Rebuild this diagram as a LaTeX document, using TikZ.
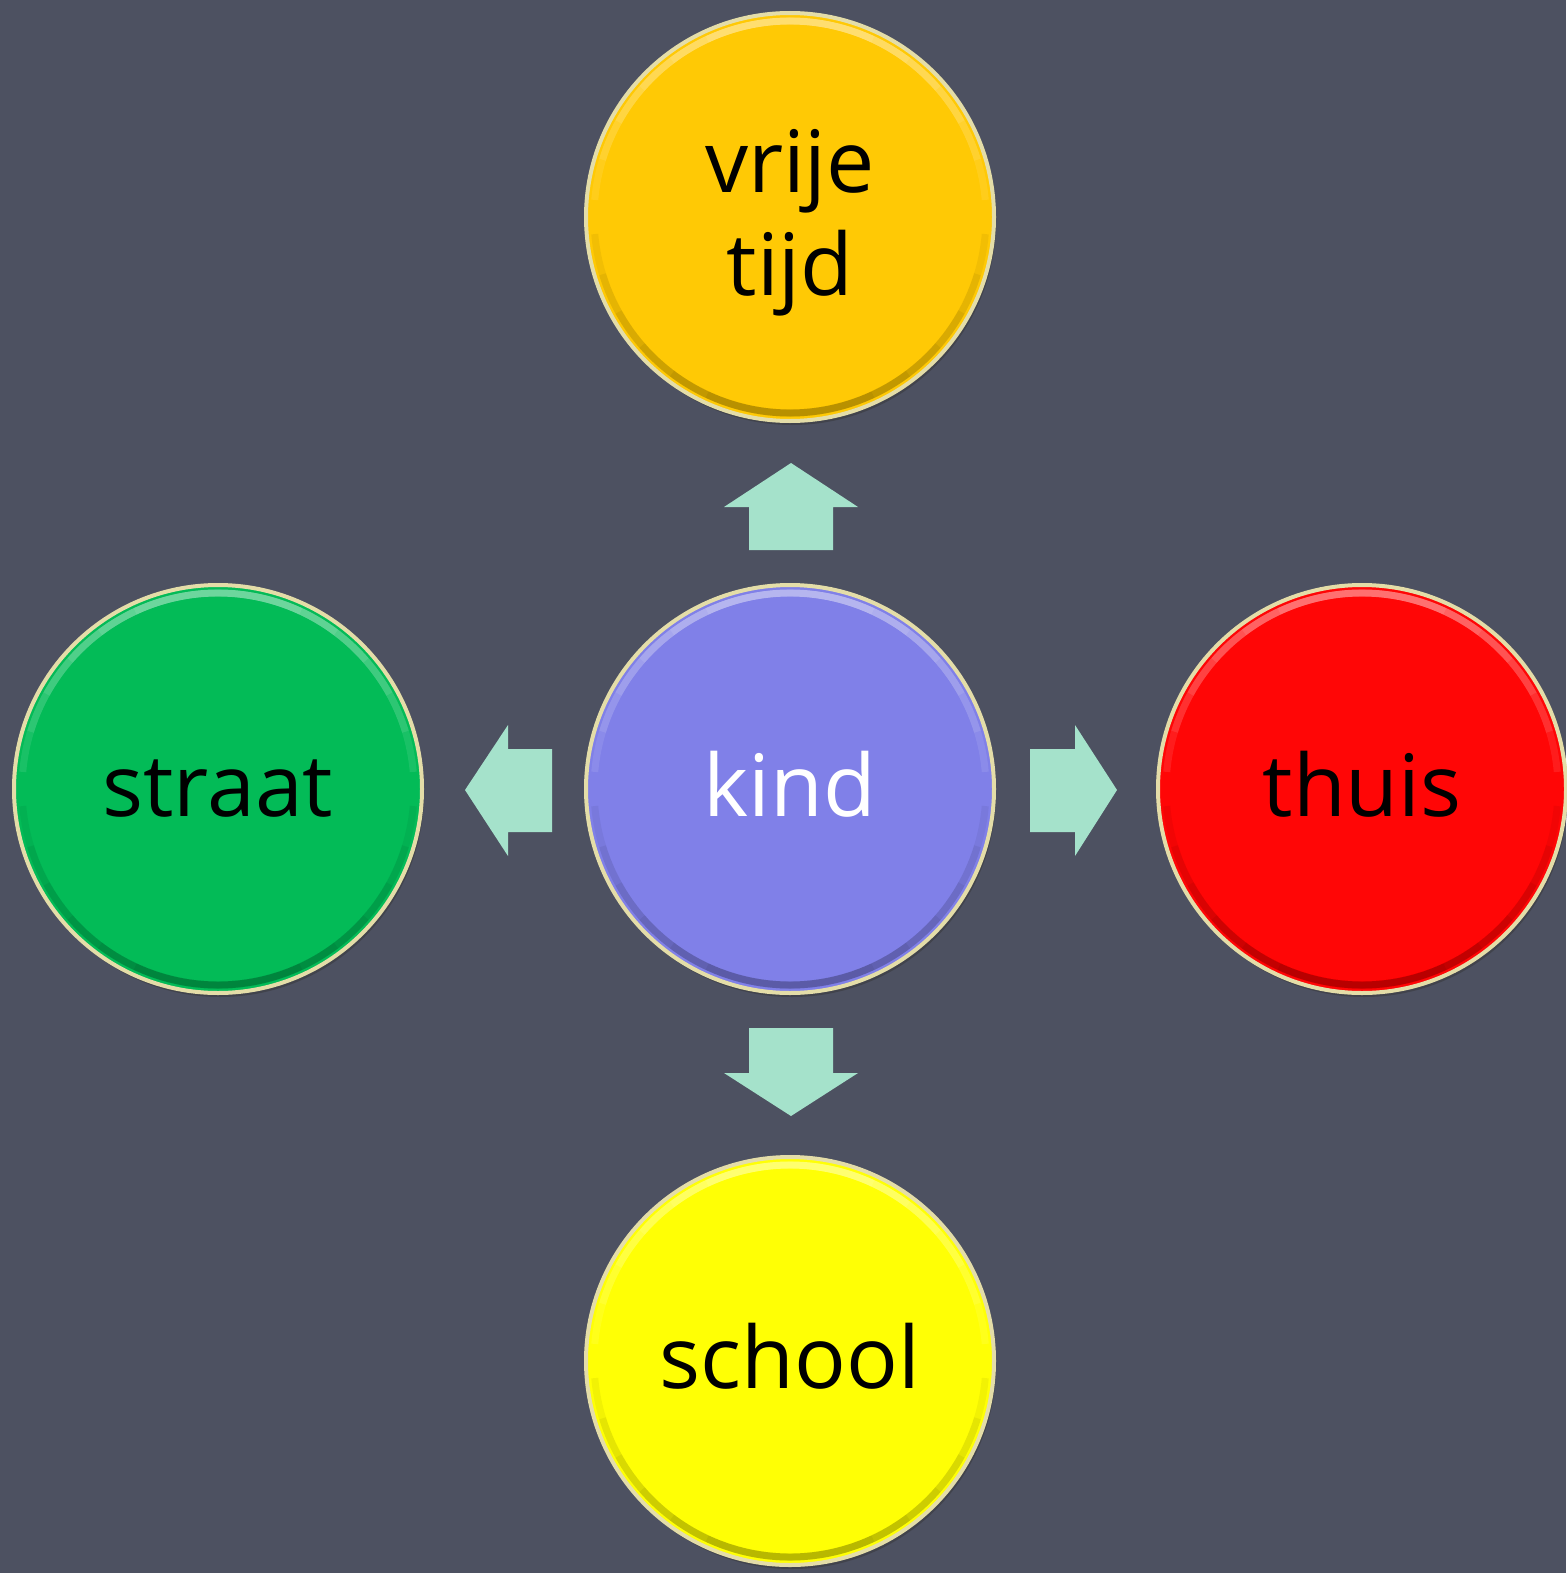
\documentclass[tikz,border=0pt]{standalone}
\usepackage{fontspec}
\setmainfont{Open Sans}
\usetikzlibrary{shadows,calc}
\definecolor{bg}{HTML}{4D5161}
\definecolor{rimcol}{HTML}{E4DDA8}
\definecolor{arrcol}{HTML}{A5E2CB}
\definecolor{cOrange}{HTML}{FFC905}
\definecolor{cBlue}{HTML}{8080E8}
\definecolor{cGreen}{HTML}{03BB57}
\definecolor{cRed}{HTML}{FF0606}
\definecolor{cYellow}{HTML}{FFFF05}
\begin{document}
\begin{tikzpicture}[x=1pt,y=-1pt,
  ball/.style={circle, draw=rimcol, line width=4pt, minimum size=408pt, inner sep=0pt, fill=#1,
    drop shadow={opacity=0.45, shadow xshift=2pt, shadow yshift=-4pt, fill=black!80}},
  lbl/.style={font=\fontsize{86}{100}\selectfont, anchor=base, inner sep=0pt, text=black},
  hl/.style={white, opacity=0.09, line width=7pt},
  dk/.style={black, opacity=0.05, line width=7pt},
  blockarr/.style={fill=arrcol}]
\fill[bg] (0,0) rectangle (1566,1573);
\useasboundingbox (0,0) rectangle (1566,1573);

\node[ball=cOrange] (vrije) at (790,217) {};
\node[ball=cBlue] (kind) at (790,789) {};
\node[ball=cGreen] (straat) at (218,789) {};
\node[ball=cRed] (thuis) at (1362,789) {};
\node[ball=cYellow] (school) at (790,1361) {};

\foreach \n in {vrije,kind,straat,thuis,school}{
  \foreach \k in {0,...,5}{
    \pgfmathsetmacro{\sa}{185+12*\k}
    \pgfmathsetmacro{\ea}{355-12*\k}
    \draw[hl] ($(\n)+(\sa:196)$) arc[start angle=\sa, end angle=\ea, radius=196];
    \pgfmathsetmacro{\sb}{5+12*\k}
    \pgfmathsetmacro{\eb}{175-12*\k}
    \draw[dk] ($(\n)+(\sb:196)$) arc[start angle=\sb, end angle=\eb, radius=196];
  }
}

\node[lbl] (tvrije) at ($(vrije)+(0,-24)$) {vrije};
\node[lbl] (ttijd) at ($(vrije)+(0,78)$) {tijd};
\node[lbl, text=white] (tkind) at ($(kind)+(0,27)$) {kind};
\node[lbl] (tstraat) at ($(straat)+(0,27)$) {straat};
\node[lbl] (tthuis) at ($(thuis)+(0,27)$) {thuis};
\node[lbl] (tschool) at ($(school)+(0,27)$) {school};

% block arrows around the centre
\fill[blockarr] ($(kind)+(-41,-239)$) -- ($(kind)+(-41,-282)$) -- ($(kind)+(-66,-282)$) -- ($(kind)+(1,-326)$)
  -- ($(kind)+(68,-282)$) -- ($(kind)+(43,-282)$) -- ($(kind)+(43,-239)$) -- cycle;
\fill[blockarr] ($(kind)+(-41,239)$) -- ($(kind)+(-41,284)$) -- ($(kind)+(-66,284)$) -- ($(kind)+(1,327)$)
  -- ($(kind)+(68,284)$) -- ($(kind)+(43,284)$) -- ($(kind)+(43,239)$) -- cycle;
\fill[blockarr] ($(kind)+(-238,-40)$) -- ($(kind)+(-282,-40)$) -- ($(kind)+(-282,-64)$) -- ($(kind)+(-325,1)$)
  -- ($(kind)+(-282,67)$) -- ($(kind)+(-282,43)$) -- ($(kind)+(-238,43)$) -- cycle;
\fill[blockarr] ($(kind)+(240,-40)$) -- ($(kind)+(285,-40)$) -- ($(kind)+(285,-64)$) -- ($(kind)+(327,1)$)
  -- ($(kind)+(285,67)$) -- ($(kind)+(285,43)$) -- ($(kind)+(240,43)$) -- cycle;
\end{tikzpicture}
\end{document}
